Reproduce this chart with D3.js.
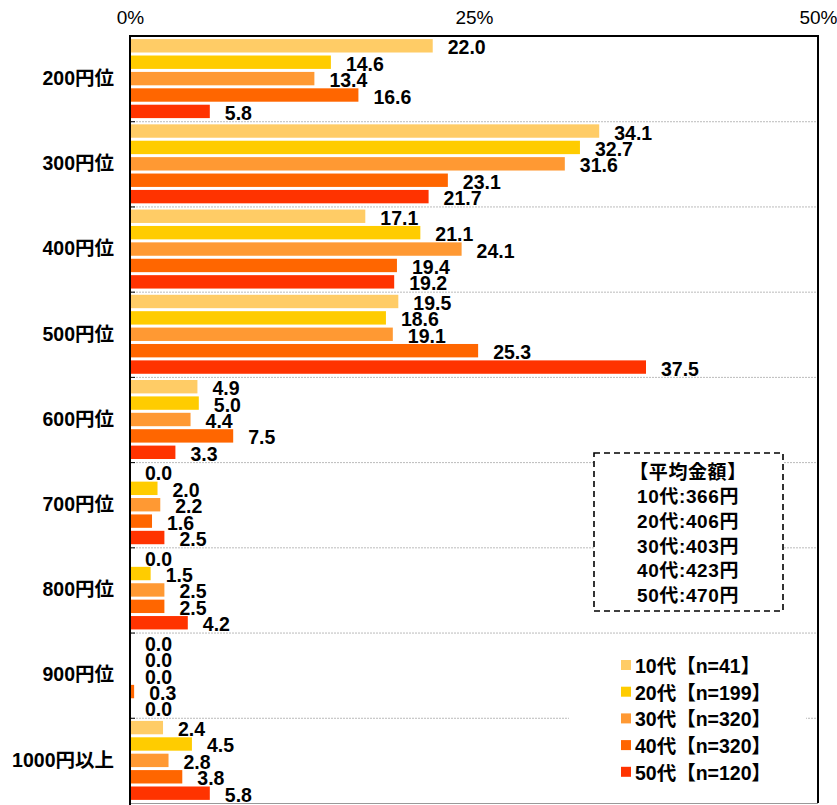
<!DOCTYPE html>
<html>
<head>
<meta charset="utf-8">
<script src="https://cdn.jsdelivr.net/npm/d3@7"></script>
<style>
  html, body { margin: 0; padding: 0; background: #fff; }
  svg { display: block; font-family: "Liberation Sans", "Noto Sans CJK JP", sans-serif; }
</style>
</head>
<body>
<svg id="chart" width="837" height="805"></svg>
<script>
// Price bands (categories)
const categories = ["200円位", "300円位", "400円位", "500円位", "600円位", "700円位", "800円位", "900円位", "1000円以上"];

// Age groups (series)
const seriesNames = ["10代【n=41】", "20代【n=199】", "30代【n=320】", "40代【n=320】", "50代【n=120】"];
const seriesColors = ["#FFCC66", "#FFCC00", "#FF9933", "#FF6600", "#FF3300"];

// Share (%) per age group, one value per price band
const teens    = [22.0, 34.1, 17.1, 19.5, 4.9, 0.0, 0.0, 0.0, 2.4];
const twenties = [14.6, 32.7, 21.1, 18.6, 5.0, 2.0, 1.5, 0.0, 4.5];
const thirties = [13.4, 31.6, 24.1, 19.1, 4.4, 2.2, 2.5, 0.0, 2.8];
const forties  = [16.6, 23.1, 19.4, 25.3, 7.5, 1.6, 2.5, 0.3, 3.8];
const fifties  = [5.8, 21.7, 19.2, 37.5, 3.3, 2.5, 4.2, 0.0, 5.8];
const seriesValues = [teens, twenties, thirties, forties, fifties];

// Axis ticks
const tickValues = [0, 25, 50];
const tickLabels = ["0%", "25%", "50%"];

// Average amount box
const averageTitle = "【平均金額】";
const averageLines = ["10代:366円", "20代:406円", "30代:403円", "40代:423円", "50代:470円"];

const svg = d3.select("#chart");
const plotL = 130, plotR = 818, plotT = 36, plotB = 803;

const x = d3.scaleLinear().domain([0, 50]).range([plotL, plotR]);
const y = d3.scaleBand().domain(categories).range([plotT, plotB]).padding(0);
const ys = d3.scaleBand().domain(d3.range(seriesNames.length))
  .range([0, y.bandwidth()]).paddingInner(0.183).paddingOuter(0.19);

// Group separators (dotted) and small ticks on the left axis
const bounds = categories.slice(1).map(c => y(c));
svg.append("g").selectAll("line").data(bounds).join("line")
  .attr("x1", plotL).attr("x2", plotR)
  .attr("y1", d => d + 0.5).attr("y2", d => d + 0.5)
  .attr("stroke", "#bbb").attr("stroke-width", 1).attr("stroke-dasharray", "2,1");
svg.append("g").selectAll("line").data(bounds).join("line")
  .attr("x1", plotL).attr("x2", plotL + 5)
  .attr("y1", d => d + 0.5).attr("y2", d => d + 0.5)
  .attr("stroke", "#000").attr("stroke-width", 1);

// Bars
const rows = [];
categories.forEach((c, i) => {
  seriesValues.forEach((vals, s) => rows.push({ c, s, v: vals[i] }));
});
const g = svg.append("g");
g.selectAll("rect").data(rows).join("rect")
  .attr("x", x(0))
  .attr("y", d => y(d.c) + ys(d.s))
  .attr("width", d => x(d.v) - x(0))
  .attr("height", ys.bandwidth())
  .attr("fill", d => seriesColors[d.s]);

// Value labels
g.selectAll("text").data(rows).join("text")
  .attr("x", d => x(d.v) + 15)
  .attr("y", d => y(d.c) + ys(d.s) + ys.bandwidth() / 2 + 1.5)
  .attr("dominant-baseline", "central")
  .attr("font-size", 19.5).attr("font-weight", "bold").attr("fill", "#000")
  .text(d => d.v.toFixed(1));

// Frame: top and right black, bottom grey, left axis black
svg.append("line").attr("x1", plotL).attr("x2", plotR + 1).attr("y1", plotT).attr("y2", plotT)
  .attr("stroke", "#000").attr("stroke-width", 2);
svg.append("line").attr("x1", plotR).attr("x2", plotR).attr("y1", plotT).attr("y2", plotB)
  .attr("stroke", "#000").attr("stroke-width", 2);
svg.append("line").attr("x1", plotL).attr("x2", plotR).attr("y1", plotB + 0.5).attr("y2", plotB + 0.5)
  .attr("stroke", "#999").attr("stroke-width", 1);
svg.append("line").attr("x1", plotL).attr("x2", plotL).attr("y1", plotT - 1).attr("y2", 805)
  .attr("stroke", "#000").attr("stroke-width", 2);

// Top axis labels
const xAxis = d3.axisTop(x).tickValues(tickValues)
  .tickFormat((d, i) => tickLabels[i]).tickSize(0).tickPadding(0);
const ax = svg.append("g").attr("transform", "translate(0,24)").call(xAxis);
ax.select(".domain").remove();
ax.selectAll("text").attr("font-size", 19).attr("fill", "#000")
  .attr("font-family", "'Liberation Sans', sans-serif")
  .attr("text-anchor", "middle").attr("dy", 0);

// Category labels
const yAxis = d3.axisLeft(y).tickSize(0).tickPadding(0);
const ay = svg.append("g").attr("transform", `translate(${plotL - 16},0)`).call(yAxis);
ay.select(".domain").remove();
ay.selectAll("text").attr("font-size", 19.5).attr("font-weight", "bold").attr("fill", "#000")
  .attr("font-family", "'Liberation Sans', 'Noto Sans CJK JP', sans-serif");

// Average amount box
const box = svg.append("g");
box.append("rect").attr("x", 594).attr("y", 453).attr("width", 189).attr("height", 158)
  .attr("fill", "#fff").attr("stroke", "#000").attr("stroke-width", 1.6)
  .attr("stroke-dasharray", "6,4");
box.selectAll("text").data([averageTitle, ...averageLines]).join("text")
  .attr("x", 688).attr("y", (d, i) => 472 + i * 24.7)
  .attr("text-anchor", "middle").attr("dominant-baseline", "central")
  .attr("font-size", 19).attr("font-weight", "bold").attr("fill", "#000")
  .attr("letter-spacing", 0.6)
  .text(d => d);

// Legend
const legend = svg.append("g");
legend.append("rect").attr("x", 569).attr("y", 645).attr("width", 237).attr("height", 148).attr("fill", "#fff");
const li = legend.selectAll("g.item").data(seriesNames).join("g").attr("class", "item")
  .attr("transform", (d, i) => `translate(621,${665 + i * 26.7})`);
li.append("rect").attr("x", 0).attr("y", -5).attr("width", 10).attr("height", 10)
  .attr("fill", (d, i) => seriesColors[i]);
li.append("text").attr("x", 14).attr("y", 1).attr("dominant-baseline", "central")
  .attr("font-size", 19.5).attr("font-weight", "bold").attr("fill", "#000")
  .text(d => d);
</script>
</body>
</html>
